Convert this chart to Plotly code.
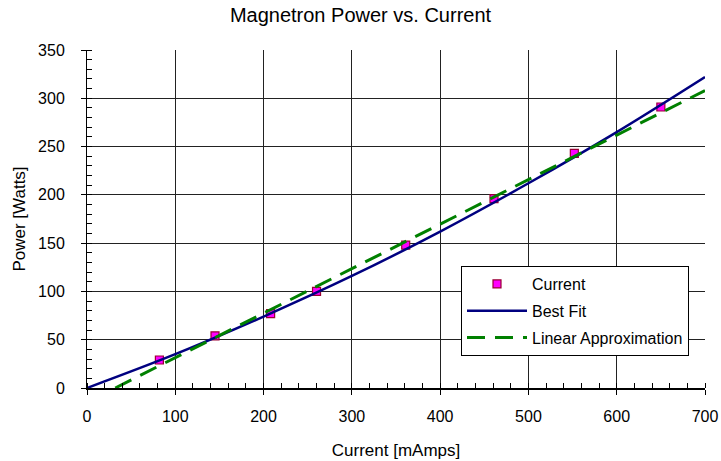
import plotly.graph_objects as go

# Measured points
current_ma = [82, 145, 208, 260, 361, 461, 552, 650]
power_w = [29, 54, 77, 100, 148, 196, 243, 291]

# Best fit curve
fit_x = [0, 100, 200, 300, 400, 500, 600, 700]
fit_y = [0, 35, 74, 116, 162, 212, 265, 322]

# Linear approximation endpoints
lin_x = [32, 700]
lin_y = [0, 308]

FONT = "Liberation Sans, Arial, sans-serif"

fig = go.Figure()
fig.add_trace(go.Scatter(
    x=current_ma, y=power_w, mode="markers", name="Current", legendgroup="a",
    marker=dict(symbol="square", size=8, color="#FF00FF",
                line=dict(color="#990033", width=1.2)),
))
fig.add_trace(go.Scatter(
    x=fit_x, y=fit_y, mode="lines", name="Best Fit", line_shape="spline",
    legendgroup="b",
    line=dict(color="#000080", width=2.5),
))
fig.add_trace(go.Scatter(
    x=lin_x, y=lin_y, mode="lines", name="Linear Approximation",
    legendgroup="c",
    line=dict(color="#008000", width=3, dash="18px,10px"),
))

fig.update_layout(
    width=721, height=461,
    margin=dict(l=87, r=16, t=50, b=73),
    paper_bgcolor="white", plot_bgcolor="white",
    font=dict(family=FONT, size=16, color="black"),
    title=dict(text="Magnetron Power vs. Current", x=0.5, xref="container",
               y=1 - 15 / 461, yanchor="middle", xanchor="center",
               font=dict(size=20, color="black")),
    showlegend=True,
    legend=dict(x=(461 - 87) / 618, y=(388 - 266) / 338, xanchor="left", yanchor="top",
                bgcolor="white", bordercolor="black", borderwidth=1,
                itemwidth=60, tracegroupgap=3, font=dict(size=16)),
)
fig.update_xaxes(
    range=[0, 700], dtick=100, tick0=0, automargin=False,
    showgrid=True, gridcolor="#222222", gridwidth=1,
    showline=True, linecolor="black", linewidth=2,
    ticks="outside", ticklen=5, tickcolor="black", ticklabelstandoff=8,
    minor=dict(ticks="inside", dtick=20, ticklen=5, tickcolor="black", showgrid=False),
    title=dict(text="Current [mAmps]", standoff=20, font=dict(size=17)),
    zeroline=False,
)
fig.update_yaxes(
    range=[0, 350], dtick=50, tick0=0, automargin=False,
    showgrid=True, gridcolor="#222222", gridwidth=1,
    showline=True, linecolor="black", linewidth=1,
    ticks="outside", ticklen=5, tickcolor="black", ticklabelstandoff=13,
    minor=dict(ticks="inside", dtick=10, ticklen=5, tickcolor="black", showgrid=False),
    title=dict(text="Power [Watts]", standoff=8, font=dict(size=17)),
    zeroline=False,
)

fig.write_html("out.html")
